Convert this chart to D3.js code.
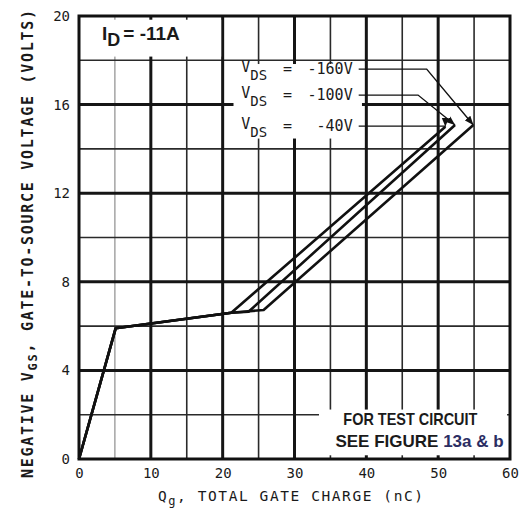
<!DOCTYPE html>
<html lang="en">
<head>
  <meta charset="UTF-8">
  <title>Gate charge vs gate-to-source voltage</title>
  <script src="https://d3js.org/d3.v7.min.js"></script>
  <style>
    body { margin: 0; background: white; }
    svg { display: block; }
    .mono { font-family: "DejaVu Sans Mono", "Liberation Mono", monospace; fill: #1a1a1a; }
    .bold { font-family: "Liberation Sans Narrow", "Arial Narrow", "Liberation Sans", sans-serif; font-weight: bold; fill: #1a1a1a; }
  </style>
</head>
<body>
<div id="chart"></div>
<script>
  // axis ticks
  var xTicks = [0, 10, 20, 30, 40, 50, 60];
  var yTicks = [0, 4, 8, 12, 16, 20];
  var xGridMajor = [10, 20, 30, 40, 50];
  var xGridMinor = [15, 25, 35, 45, 55];
  var yGridMajor = [4, 8, 12, 16];
  var yGridMinor = [2, 6, 10, 14, 18];

  // curves (Qg nC, -VGS V)
  var seriesNames = ["-40V", "-100V", "-160V"];
  var qg40 = [0, 5.1, 21.2, 51.0];
  var vgs40 = [0, 5.9, 6.6, 15.0];
  var qg100 = [0, 5.1, 21.2, 23.6, 52.35];
  var vgs100 = [0, 5.9, 6.6, 6.65, 15.08];
  var qg160 = [0, 5.1, 21.2, 25.7, 54.9];
  var vgs160 = [0, 5.9, 6.6, 6.73, 15.08];

  // label rows for the VDS leaders (in data units)
  var leaderY = [15.03, 16.43, 17.6];
  var leaderBendX = [51.0, 47.2, 48.4];

  var W = 530, H = 508;
  var margin = { top: 16, right: 20, bottom: 49, left: 79 };
  var width = W - margin.left - margin.right,
      height = H - margin.top - margin.bottom;

  var svg = d3.select("#chart").append("svg")
    .attr("width", W).attr("height", H);

  var defs = svg.append("defs");
  defs.append("marker")
    .attr("id", "arrow")
    .attr("viewBox", "0 0 10 10")
    .attr("refX", 10).attr("refY", 5)
    .attr("markerWidth", 9).attr("markerHeight", 9)
    .attr("markerUnits", "userSpaceOnUse")
    .attr("orient", "auto")
    .append("path").attr("d", "M0,1 L10,5 L0,9 Z").attr("fill", "#111");

  var g = svg.append("g")
    .attr("transform", "translate(" + margin.left + "," + margin.top + ")");

  var x = d3.scaleLinear().domain([0, 60]).range([0, width]);
  var y = d3.scaleLinear().domain([0, 20]).range([height, 0]);

  // grid
  function vlines(vals, w, col) {
    g.append("g").selectAll("line").data(vals).enter().append("line")
      .attr("x1", d => x(d)).attr("x2", d => x(d))
      .attr("y1", 0).attr("y2", height)
      .attr("stroke", col).attr("stroke-width", w);
  }
  function hlines(vals, w, col) {
    g.append("g").selectAll("line").data(vals).enter().append("line")
      .attr("y1", d => y(d)).attr("y2", d => y(d))
      .attr("x1", 0).attr("x2", width)
      .attr("stroke", col).attr("stroke-width", w);
  }
  vlines([5], 1, "#777");
  vlines(xGridMinor, 1.6, "#2a2a2a");
  hlines(yGridMinor, 1.6, "#2a2a2a");
  vlines(xGridMajor, 3, "#151515");
  hlines(yGridMajor, 3, "#151515");

  // white areas behind the text blocks
  var blanks = [
    [0.2, 20, 19.9, 18.1],   // I_D box
    [21.3, 39.6, 17.9, 14.4], // VDS labels
    [33.2, 59.8, 2.3, 0.1]   // test circuit note
  ];
  g.append("g").selectAll("rect").data(blanks).enter().append("rect")
    .attr("x", d => x(d[0]) + 1.5).attr("y", d => y(d[2]) + 1.5)
    .attr("width", d => x(d[1]) - x(d[0]) - 3)
    .attr("height", d => y(d[3]) - y(d[2]) - 3)
    .attr("fill", "white");

  // frame
  g.append("rect").attr("width", width).attr("height", height)
    .attr("fill", "none").attr("stroke", "#111").attr("stroke-width", 3);

  // curves
  var line = d3.line().x(d => x(d[0])).y(d => y(d[1]));
  var curves = [d3.zip(qg40, vgs40), d3.zip(qg100, vgs100), d3.zip(qg160, vgs160)];
  g.append("g").selectAll("path").data(curves).enter().append("path")
    .attr("d", line)
    .attr("fill", "none").attr("stroke", "#111").attr("stroke-width", 2.6)
    .attr("stroke-linejoin", "round");

  // leaders with arrows
  var textEnd = x(38.1);
  var leaders = curves.map(function(c, i) {
    var tip = c[c.length - 1];
    return [[textEnd + 6, y(leaderY[i])], [x(leaderBendX[i]), y(leaderY[i])], [x(tip[0]), y(tip[1])]];
  });
  g.append("g").selectAll("path").data(leaders).enter().append("path")
    .attr("d", d3.line())
    .attr("fill", "none").attr("stroke", "#111").attr("stroke-width", 1.4)
    .attr("marker-end", "url(#arrow)");

  // VDS labels
  var lab = g.append("g").selectAll("g").data(seriesNames).enter().append("g")
    .attr("transform", (d, i) => "translate(0," + (y(leaderY[i]) + 5) + ")");
  var vt = lab.append("text").attr("class", "mono").attr("font-size", 15)
    .attr("x", x(22.6));
  vt.append("tspan").attr("dy", -2).text("V");
  vt.append("tspan").attr("dy", 8).attr("font-size", 14).text("DS");
  lab.append("text").attr("class", "mono").attr("font-size", 15)
    .attr("x", x(28.4)).text("=");
  lab.append("text").attr("class", "mono").attr("font-size", 15)
    .attr("x", textEnd).attr("text-anchor", "end").text(d => d);

  // I_D label
  var idt = g.append("text").attr("class", "bold").attr("font-size", 19)
    .attr("x", x(3.2)).attr("y", y(18.9));
  idt.append("tspan").text("I");
  idt.append("tspan").attr("dy", 6).attr("font-size", 18).text("D");
  idt.append("tspan").attr("dy", -6).attr("dx", 3).text("= -11A");

  // test circuit note
  g.append("text").attr("class", "bold").attr("font-size", 17)
    .attr("x", x(36.8)).attr("y", y(1.53)).attr("textLength", 134).attr("lengthAdjust", "spacingAndGlyphs")
    .text("FOR TEST CIRCUIT");
  var note = g.append("text").attr("class", "bold").attr("font-size", 17)
    .attr("x", x(35.7)).attr("y", y(0.55));
  note.append("tspan").text("SEE FIGURE ");
  note.append("tspan").attr("fill", "#2b2e63").text("13a & b");

  // axes
  var xAxis = g.append("g").attr("transform", "translate(0," + height + ")")
    .call(d3.axisBottom(x).tickValues(xTicks).tickSize(0).tickPadding(9));
  xAxis.select(".domain").remove();
  xAxis.selectAll("text").attr("class", "mono").attr("font-size", 14).attr("fill", "#1a1a1a");

  var yAxis = g.append("g")
    .call(d3.axisLeft(y).tickValues(yTicks).tickSize(0).tickPadding(9));
  yAxis.select(".domain").remove();
  yAxis.selectAll("text").attr("class", "mono").attr("font-size", 14).attr("fill", "#1a1a1a");

  // axis titles
  var xt = svg.append("text").attr("class", "mono").attr("font-size", 14.5)
    .attr("x", 158).attr("y", 501).attr("textLength", 265).attr("lengthAdjust", "spacing");
  xt.append("tspan").text("Q");
  xt.append("tspan").attr("dy", 4).attr("font-size", 12).text("g");
  xt.append("tspan").attr("dy", -4).text(",  TOTAL GATE CHARGE (nC)");

  var yt = svg.append("text").attr("class", "mono").attr("font-size", 15)
    .attr("font-weight", "bold")
    .attr("transform", "translate(33,478) rotate(-90)")
    .attr("textLength", 468).attr("lengthAdjust", "spacing");
  yt.append("tspan").text("NEGATIVE V");
  yt.append("tspan").attr("dy", 4).attr("font-size", 12).text("GS");
  yt.append("tspan").attr("dy", -4).text(",  GATE-TO-SOURCE VOLTAGE  (VOLTS)");
</script>
</body>
</html>
